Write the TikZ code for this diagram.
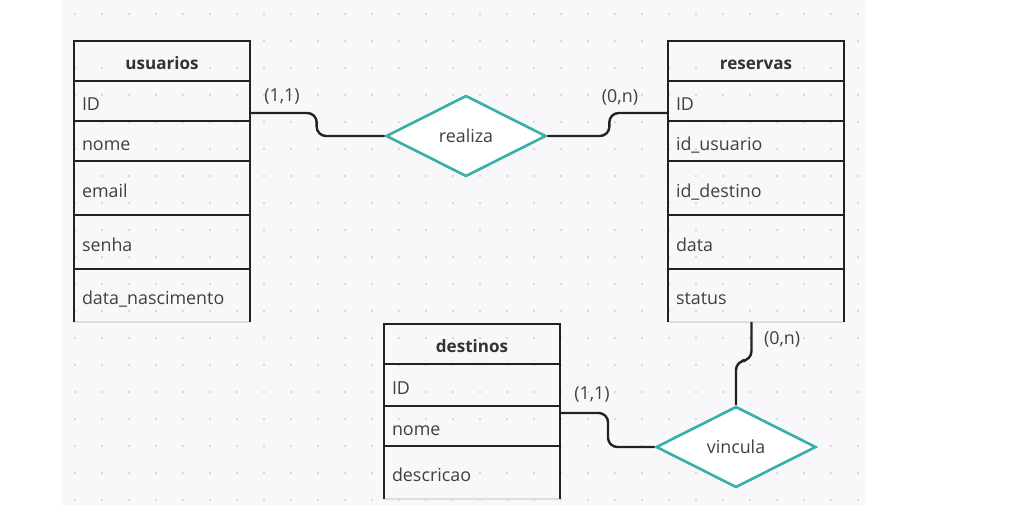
\documentclass[tikz,border=0pt]{standalone}
\usepackage{fontspec}
\setmainfont{Open Sans}
\usetikzlibrary{positioning, shapes.geometric}
\definecolor{paper}{RGB}{248,248,250}
\definecolor{dotgray}{RGB}{208,208,212}
\definecolor{ink}{RGB}{34,34,34}
\definecolor{rowgray}{RGB}{64,64,64}
\definecolor{headgray}{RGB}{50,50,50}
\definecolor{relteal}{RGB}{58,176,168}
\definecolor{basegray}{RGB}{222,222,226}
\newcommand{\txt}{\fontsize{13.4}{16}\selectfont}

\begin{document}
\begin{tikzpicture}[x=0.75pt,y=-0.75pt,
    cell/.style={text width=120pt,inner xsep=6pt,inner ysep=0pt,outer sep=0pt,align=left,text=rowgray,font=\txt,text height=14pt,text depth=0pt},
    head/.style={cell,align=center,minimum height=30pt,text=headgray,font=\fontsize{12.8}{16}\selectfont\bfseries,text height=13pt},
    rel/.style={diamond,draw=relteal,line width=2pt,fill=white,minimum width=120pt,minimum height=60.75pt,inner sep=0pt,text=rowgray,font=\txt},
    rule/.style={line width=2pt,draw=ink},
    base/.style={line width=0.8pt,draw=basegray},
    link/.style={line width=1.8pt,draw=ink,rounded corners=7pt},
    card/.style={text=rowgray,font=\txt,inner sep=0pt}]

    % background with dot grid
    \useasboundingbox (0,0) rectangle (1023,517);
    \fill[paper] (62,0) rectangle (865,505);
    \foreach \i in {0,...,29}
        \foreach \j in {0,...,18}
            \fill[dotgray] (75+27*\i,14+27*\j) circle (0.9pt);

    % usuarios
    \node[head,anchor=north west] (uh) at (74,41) {usuarios};
    \node[cell,minimum height=30pt,below=0pt of uh] (u1) {ID};
    \node[cell,minimum height=30pt,below=0pt of u1] (u2) {nome};
    \node[cell,minimum height=40.5pt,below=0pt of u2] (u3) {email};
    \node[cell,minimum height=40.5pt,below=0pt of u3] (u4) {senha};
    \node[cell,minimum height=39.75pt,below=0pt of u4] (u5) {data\_nascimento};

    % reservas
    \node[head,anchor=north west] (rh) at (668,41) {reservas};
    \node[cell,minimum height=30pt,below=0pt of rh] (r1) {ID};
    \node[cell,minimum height=30pt,below=0pt of r1] (r2) {id\_usuario};
    \node[cell,minimum height=40.5pt,below=0pt of r2] (r3) {id\_destino};
    \node[cell,minimum height=40.5pt,below=0pt of r3] (r4) {data};
    \node[cell,minimum height=39.75pt,below=0pt of r4] (r5) {status};

    % destinos
    \node[head,anchor=north west] (dh) at (384,324) {destinos};
    \node[cell,minimum height=31.5pt,below=0pt of dh] (d1) {ID};
    \node[cell,minimum height=30pt,below=0pt of d1] (d2) {nome};
    \node[cell,minimum height=39.75pt,below=0pt of d2] (d3) {descricao};

    % table rules
    \foreach \n in {uh,u1,u2,u3,u4,rh,r1,r2,r3,r4,dh,d1,d2}
        \draw[rule] (\n.south west) -- (\n.south east);
    \draw[base] (u5.south west) -- (u5.south east);
    \draw[base] (r5.south west) -- (r5.south east);
    \draw[base] (d3.south west) -- (d3.south east);
    \draw[rule] (u5.south west) -- (uh.north west) -- (uh.north east) -- (u5.south east);
    \draw[rule] (r5.south west) -- (rh.north west) -- (rh.north east) -- (r5.south east);
    \draw[rule] (d3.south west) -- (dh.north west) -- (dh.north east) -- (d3.south east);

    % relationships
    \node[rel] (realiza) at (466,136) {realiza};
    \node[rel] (vincula) at (736,447) {vincula};

    % connectors
    \coordinate (uA) at ([yshift=-9pt]u1.east);
    \coordinate (rA) at ([yshift=-9pt]r1.west);
    \coordinate (rB) at ([xshift=-3.4pt]r5.south);
    \coordinate (dA) at ([yshift=9.75pt]d2.east);
    \draw[link] (uA) -- ++(50pt,0) |- (realiza.west);
    \draw[link] (realiza.east) -- ++(46.5pt,0) |- (rA);
    \draw[link] (rB) -- ++(0,-29pt) -| (vincula.north);
    \draw[link] (dA) -- ++(36pt,0) |- (vincula.west);

    % cardinalities
    \node[card] (c1) at ([xshift=24pt,yshift=12pt]uA) {(1,1)};
    \node[card] (c2) at ([xshift=-36pt,yshift=12pt]rA) {(0,n)};
    \node[card] (c3) at ([xshift=23pt,yshift=-13pt]rB) {(0,n)};
    \node[card] (c4) at ([xshift=24pt,yshift=14pt]dA) {(1,1)};

\end{tikzpicture}
\end{document}
